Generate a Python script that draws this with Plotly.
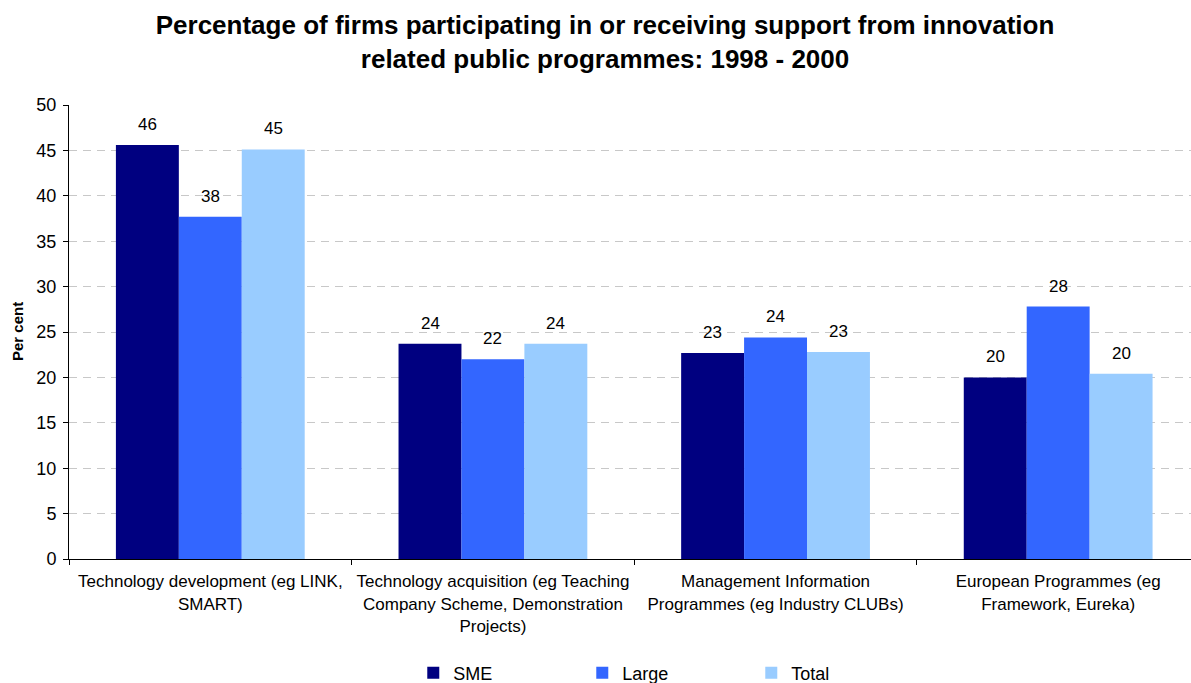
import plotly.graph_objects as go

categories = [
    "Technology development (eg LINK,<br>SMART)",
    "Technology acquisition (eg Teaching<br>Company Scheme, Demonstration<br>Projects)",
    "Management Information<br>Programmes (eg Industry CLUBs)",
    "European Programmes (eg<br>Framework, Eureka)",
]
sme = [45.6, 23.7, 22.7, 20.0]
large = [37.7, 22.0, 24.4, 27.8]
total = [45.1, 23.7, 22.8, 20.4]

series = [("SME", sme, "#000080"), ("Large", large, "#3366FF"), ("Total", total, "#99CCFF")]

FONT = "Arial, Liberation Sans, sans-serif"
BARGAP = 0.332
GROUP_PX = 282.5  # pixel width of one category slot
bar_px = GROUP_PX * (1 - BARGAP) / len(series)

fig = go.Figure()
annotations = []
for i, (name, vals, color) in enumerate(series):
    fig.add_trace(go.Bar(
        name=name, x=categories, y=vals,
        marker=dict(color=color, line=dict(width=0)),
    ))
    offset = (i - (len(series) - 1) / 2) * bar_px
    for cat, v in zip(categories, vals):
        annotations.append(dict(
            x=cat, y=v, xref="x", yref="y", text=f"{round(v)}",
            showarrow=False, xanchor="center", yanchor="bottom",
            xshift=offset, yshift=9,
            font=dict(size=17, color="#000000", family=FONT),
        ))

# y-axis title
annotations.append(dict(
    text="<b>Per cent</b>", x=0, xref="paper", xshift=-52, xanchor="center",
    y=0.5, yref="paper", yanchor="middle", textangle=-90, showarrow=False,
    font=dict(size=15, family=FONT, color="#000000"),
))

fig.update_layout(
    width=1191, height=683,
    margin=dict(l=69, r=0, t=105, b=124, autoexpand=False),
    paper_bgcolor="white", plot_bgcolor="white",
    barmode="group", bargap=BARGAP, bargroupgap=0,
    font=dict(family=FONT, color="#000000"),
    annotations=annotations,
    title=dict(
        text="Percentage of firms participating in or receiving support from innovation<br>related public programmes: 1998 - 2000",
        x=0.508, xref="container", xanchor="center",
        y=0.95, yref="container", yanchor="top",
        font=dict(size=26, family=FONT, weight="bold", color="#000000"),
    ),
    xaxis=dict(
        type="category", range=[-0.5, 3.47],
        showline=True, linecolor="#000000", linewidth=1,
        ticks="outside", tickson="boundaries", ticklen=5, tickcolor="#000000",
        tickfont=dict(size=17, family=FONT), ticklabelstandoff=7,
        showgrid=False,
    ),
    yaxis=dict(
        range=[0, 50], dtick=5,
        showline=True, linecolor="#000000", linewidth=1,
        ticks="outside", ticklen=5, tickcolor="#000000",
        tickfont=dict(size=18, family=FONT), ticklabelstandoff=3,
        showgrid=True, gridcolor="#C8C8C8", gridwidth=1, griddash="8px,6px",
        zeroline=False,
    ),
    legend=dict(
        orientation="h", xref="container", yref="paper",
        x=0.347, xanchor="left", y=-0.251, yanchor="middle",
        font=dict(size=18, family=FONT),
        entrywidth=124, entrywidthmode="pixels",
        itemclick=False,
    ),
    showlegend=True,
)

fig.write_html("out.html")
